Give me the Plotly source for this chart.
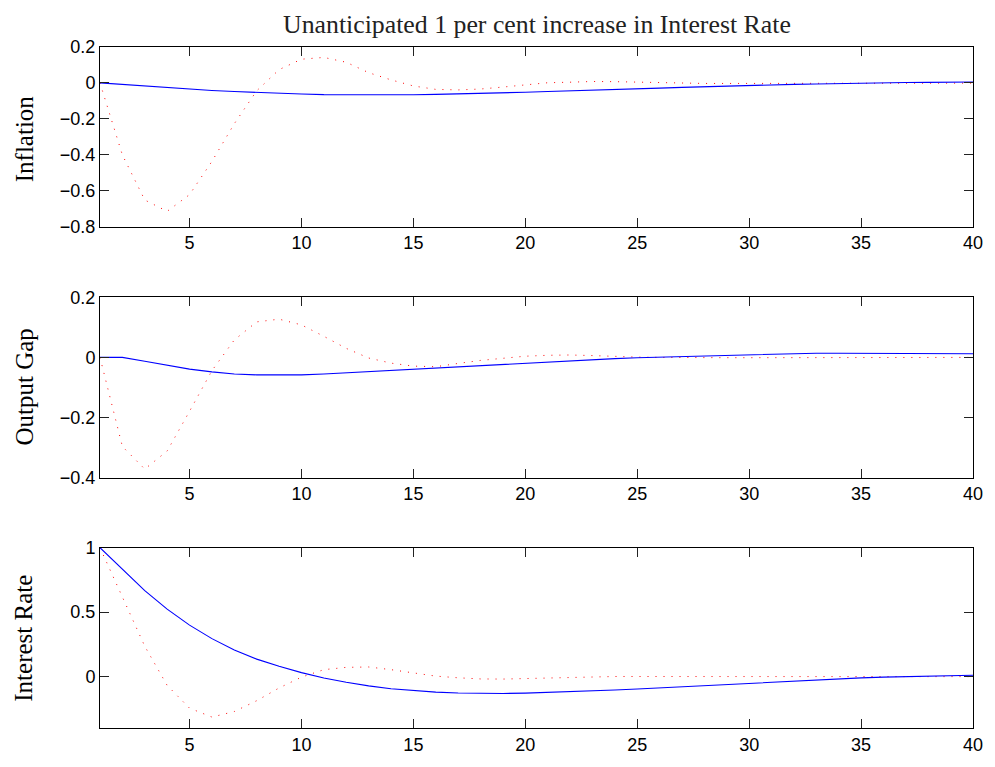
import plotly.graph_objects as go

periods = list(range(1, 41))

# Inflation
infl_blue = [0.000, -0.009, -0.018, -0.026, -0.034, -0.042, -0.048, -0.054, -0.059, -0.062,
             -0.065, -0.066, -0.067, -0.067, -0.066, -0.064, -0.062, -0.059, -0.056, -0.052,
             -0.048, -0.045, -0.041, -0.037, -0.033, -0.029, -0.025, -0.021, -0.018, -0.014,
             -0.011, -0.008, -0.006, -0.003, -0.001, 0.001, 0.002, 0.003, 0.004, 0.005]
infl_red = [0.000, -0.401, -0.652, -0.715, -0.622, -0.437, -0.227, -0.044, 0.074, 0.132,
            0.142, 0.115, 0.057, 0.017, -0.017, -0.036, -0.039, -0.034, -0.023, -0.012,
            0.001, 0.004, 0.008, 0.007, 0.004, 0.003, -0.001, -0.003, -0.003, -0.003,
            -0.002, -0.002, -0.002, -0.001, -0.001, -0.001, -0.001, -0.001, -0.001, -0.001]

# Output gap
gap_blue = [0.000, 0.000, -0.013, -0.026, -0.039, -0.048, -0.055, -0.058, -0.059, -0.058,
            -0.055, -0.051, -0.048, -0.044, -0.040, -0.035, -0.031, -0.026, -0.022, -0.018,
            -0.014, -0.010, -0.007, -0.004, -0.001, 0.001, 0.004, 0.006, 0.008, 0.010,
            0.012, 0.013, 0.014, 0.014, 0.014, 0.014, 0.014, 0.013, 0.013, 0.012]
gap_red = [0.000, -0.296, -0.371, -0.311, -0.179, -0.044, 0.058, 0.118, 0.127, 0.108,
           0.070, 0.030, -0.002, -0.019, -0.029, -0.031, -0.020, -0.010, -0.003, 0.004,
           0.007, 0.008, 0.006, 0.003, 0.001, 0.000, -0.001, -0.001, -0.001, -0.001,
           -0.001, -0.001, 0.000, 0.000, 0.000, 0.000, 0.000, 0.000, 0.000, 0.000]

# Interest rate
rate_blue = [1.000, 0.835, 0.667, 0.523, 0.399, 0.294, 0.206, 0.135, 0.079, 0.030,
             -0.012, -0.045, -0.073, -0.095, -0.110, -0.121, -0.128, -0.132, -0.132, -0.129,
             -0.124, -0.118, -0.112, -0.105, -0.097, -0.088, -0.079, -0.070, -0.060, -0.051,
             -0.043, -0.035, -0.027, -0.019, -0.011, -0.005, 0.000, 0.004, 0.007, 0.010]
rate_red = [1.000, 0.619, 0.235, -0.069, -0.246, -0.315, -0.272, -0.188, -0.089, -0.005,
            0.053, 0.071, 0.074, 0.053, 0.030, 0.003, -0.010, -0.019, -0.020, -0.015,
            -0.011, -0.005, 0.000, 0.000, 0.000, 0.000, 0.000, -0.001, -0.002, -0.002,
            -0.002, -0.002, -0.002, -0.002, -0.001, -0.001, -0.001, -0.001, -0.001, -0.001]

panel_names = ["Inflation", "Output Gap", "Interest Rate"]
title_text = "Unanticipated 1 per cent increase in Interest Rate"
x_ticks = [5, 10, 15, 20, 25, 30, 35, 40]
y_ranges = [[-0.8, 0.2], [-0.4, 0.2], [-0.4, 1.0]]
y_dticks = [0.2, 0.2, 0.5]

series = [(infl_blue, infl_red), (gap_blue, gap_red), (rate_blue, rate_red)]
domains = [[0.7363, 1.0], [0.3674, 0.6326], [0.0, 0.2647]]

fig = go.Figure()
serif = "Liberation Serif, Times New Roman, serif"
sans = "Liberation Sans, Arial, sans-serif"

for i, (b, r) in enumerate(series):
    xa = "x" if i == 0 else f"x{i+1}"
    ya = "y" if i == 0 else f"y{i+1}"
    fig.add_trace(go.Scatter(x=periods, y=r, mode="lines", xaxis=xa, yaxis=ya,
                             line=dict(color="#ff0000", width=1, dash="1px,7px"),
                             showlegend=False, hoverinfo="skip"))
    fig.add_trace(go.Scatter(x=periods, y=b, mode="lines", xaxis=xa, yaxis=ya,
                             line=dict(color="#0000ff", width=1.1),
                             showlegend=False, hoverinfo="skip"))

layout = dict(
    width=995, height=767,
    margin=dict(l=100, r=15, t=47, b=26),
    paper_bgcolor="white", plot_bgcolor="white",
    showlegend=False,
)
for i in range(3):
    xk = "xaxis" if i == 0 else f"xaxis{i+1}"
    yk = "yaxis" if i == 0 else f"yaxis{i+1}"
    ya = "y" if i == 0 else f"y{i+1}"
    xa = "x" if i == 0 else f"x{i+1}"
    layout[xk] = dict(domain=[0, 1], anchor=ya, range=[1, 40],
                      tickvals=x_ticks, ticks="inside", ticklen=9, tickcolor="#222",
                      showline=True, linecolor="black", linewidth=1, mirror="ticks",
                      showgrid=False, zeroline=False,
                      tickfont=dict(family=sans, size=18, color="black"))
    layout[yk] = dict(domain=domains[i], anchor=xa, range=y_ranges[i],
                      tick0=0, dtick=y_dticks[i], ticks="inside", ticklen=9, tickcolor="#222",
                      showline=True, linecolor="black", linewidth=1, mirror="ticks",
                      showgrid=False, zeroline=False,
                      tickfont=dict(family=sans, size=18, color="black"))
fig.update_layout(**layout)

label_centers = [141, 394, 650]
annotations = []
for name, yc in zip(panel_names, label_centers):
    annotations.append(dict(text=name, xref="paper", yref="paper",
                            x=0, y=1 - (yc - 47) / 694, xanchor="center", yanchor="middle",
                            xshift=24 - 100, textangle=-90, showarrow=False,
                            font=dict(family=serif, size=25, color="black")))
annotations.append(dict(text=title_text, xref="paper", yref="paper", x=0.5, y=1,
                        xanchor="center", yanchor="middle", yshift=47 - 24, showarrow=False,
                        font=dict(family=serif, size=25.8, color="#222")))
fig.update_layout(annotations=annotations)

fig.write_html("out.html")
